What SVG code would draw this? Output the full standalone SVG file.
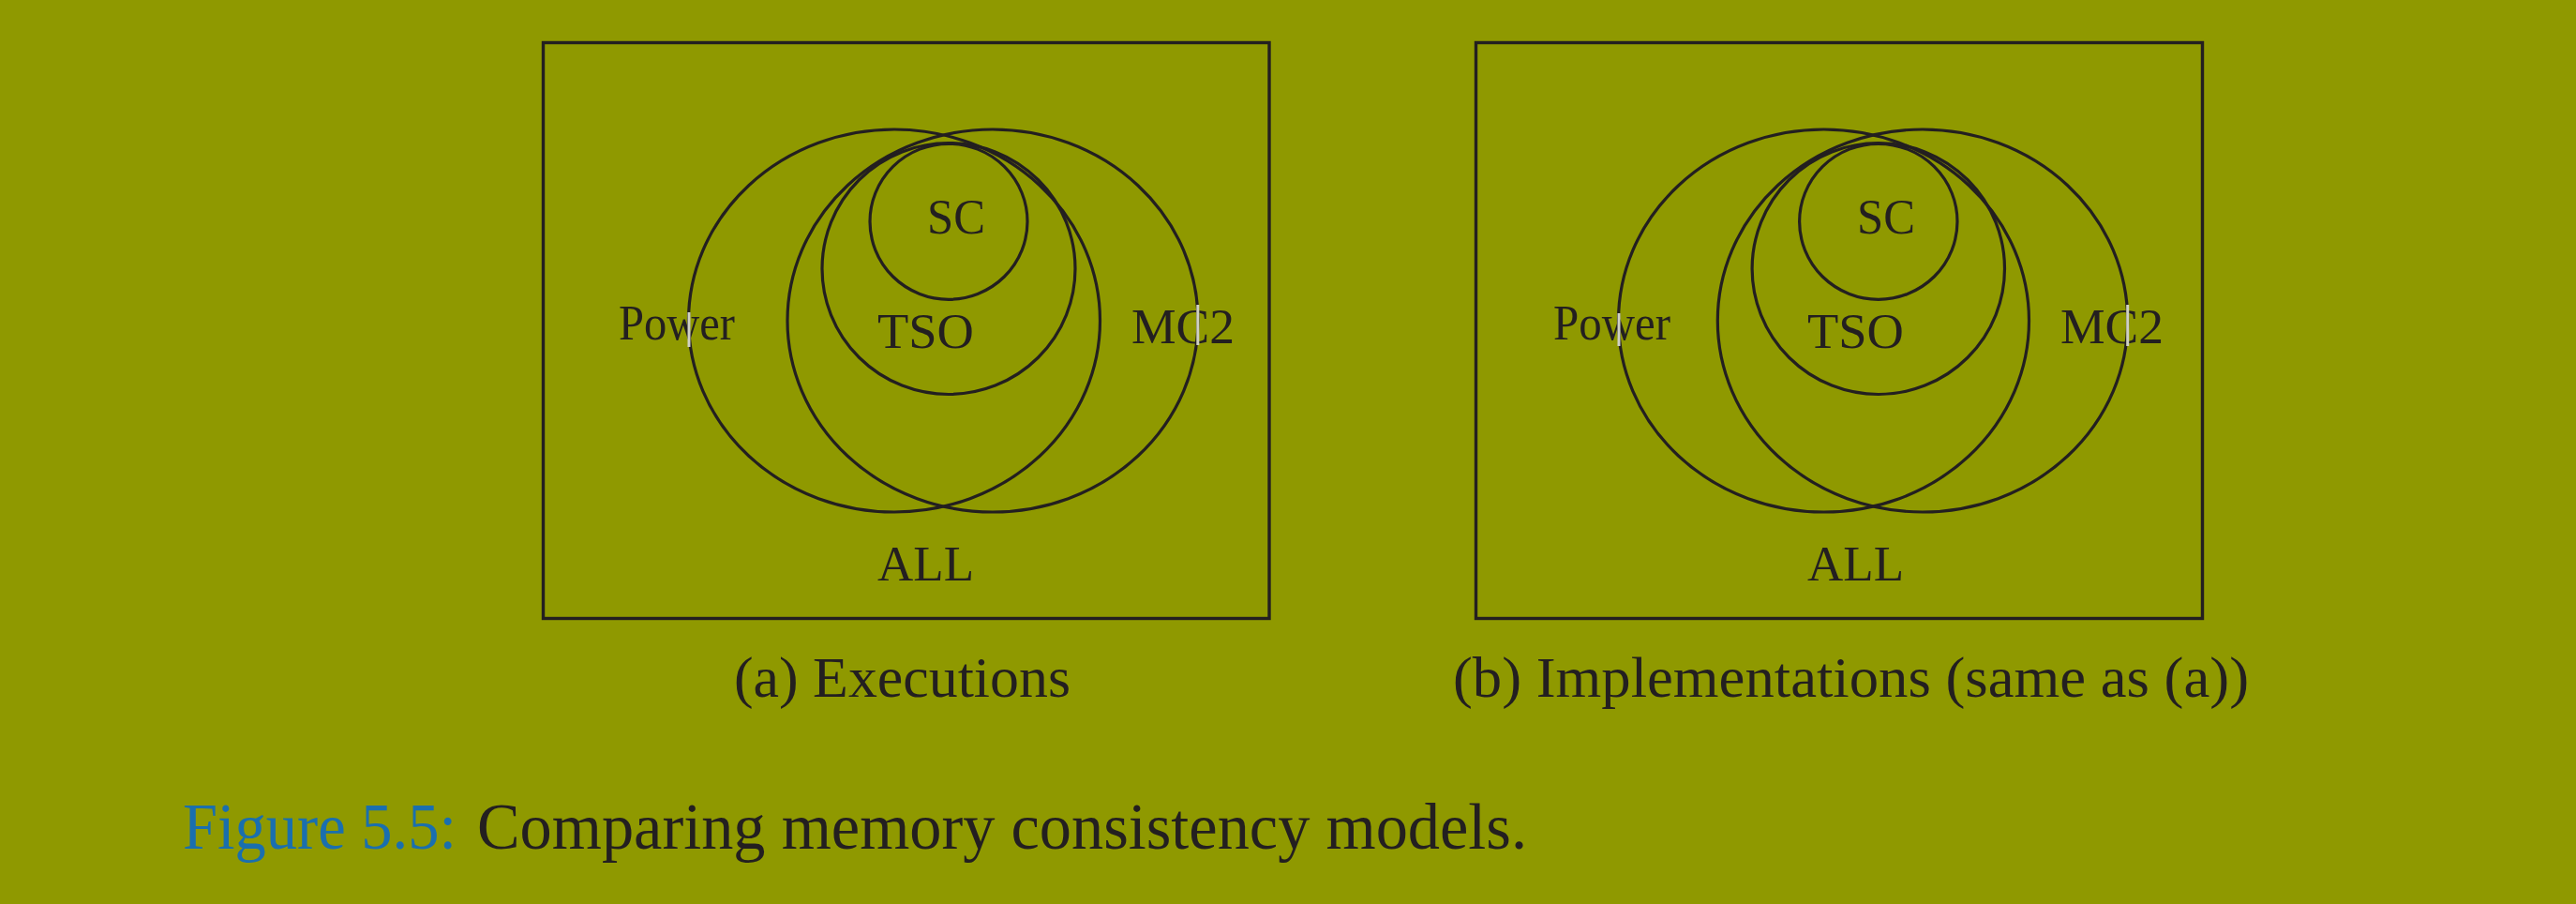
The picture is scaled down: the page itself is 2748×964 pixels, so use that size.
<svg xmlns="http://www.w3.org/2000/svg" width="2748" height="964" viewBox="0 0 2748 964">
<style>
.bg{fill:#8f9900}
.frame{fill:none;stroke:#231f20;stroke-width:3.4}
.set{fill:none;stroke:#231f20;stroke-width:3.2}
.gap{stroke:#cfd0c4;stroke-width:3}
.lbl{font-family:"Liberation Serif","Times New Roman",serif;font-size:53px;fill:#231f20}
.sub{font-family:"Liberation Serif","Times New Roman",serif;font-size:62px;fill:#231f20}
.cap{font-family:"Liberation Serif","Times New Roman",serif;font-size:70px;fill:#231f20}
.capnum{fill:#1a6fae}
</style>
<rect class="bg" x="0" y="0" width="2748" height="964"/>

<g id="panel-a">
  <rect id="a-all" class="frame" x="579.5" y="45.5" width="774.5" height="614"/>
  <g id="a-power">
    <ellipse class="set" cx="954" cy="342" rx="219.5" ry="204"/>
    <text class="lbl" x="660" y="362" textLength="124" lengthAdjust="spacingAndGlyphs">Power</text>
    <line class="gap" x1="735" y1="333" x2="735" y2="370"/>
  </g>
  <g id="a-mc2">
    <ellipse class="set" cx="1059" cy="342" rx="219" ry="204"/>
    <text class="lbl" x="1207" y="366" textLength="110" lengthAdjust="spacingAndGlyphs">MC2</text>
    <line class="gap" x1="1277.8" y1="325" x2="1277.8" y2="368"/>
  </g>
  <g id="a-tso">
    <ellipse class="set" cx="1012" cy="286.5" rx="135" ry="134"/>
    <text class="lbl" x="936" y="371.4" textLength="103" lengthAdjust="spacingAndGlyphs">TSO</text>
  </g>
  <g id="a-sc">
    <ellipse class="set" cx="1012" cy="236.3" rx="84" ry="83"/>
    <text class="lbl" x="989" y="249" textLength="62" lengthAdjust="spacingAndGlyphs">SC</text>
  </g>
  <text id="a-all-label" class="lbl" x="936" y="619.4" textLength="103" lengthAdjust="spacingAndGlyphs">ALL</text>
  <text id="a-caption" class="sub" x="783" y="743" textLength="359" lengthAdjust="spacingAndGlyphs">(a) Executions</text>
</g>

<g id="panel-b">
  <rect id="b-all" class="frame" x="1574.5" y="45.5" width="775" height="614"/>
  <g id="b-power">
    <ellipse class="set" cx="1945.5" cy="342" rx="219" ry="204"/>
    <text class="lbl" x="1657" y="362" textLength="125" lengthAdjust="spacingAndGlyphs">Power</text>
    <line class="gap" x1="1727" y1="334" x2="1727" y2="369"/>
  </g>
  <g id="b-mc2">
    <ellipse class="set" cx="2051" cy="342" rx="218.7" ry="204"/>
    <text class="lbl" x="2198" y="366" textLength="110" lengthAdjust="spacingAndGlyphs">MC2</text>
    <line class="gap" x1="2269.7" y1="325" x2="2269.7" y2="369"/>
  </g>
  <g id="b-tso">
    <ellipse class="set" cx="2003.8" cy="286.5" rx="134.7" ry="134"/>
    <text class="lbl" x="1928" y="371.4" textLength="103" lengthAdjust="spacingAndGlyphs">TSO</text>
  </g>
  <g id="b-sc">
    <ellipse class="set" cx="2003.8" cy="236.3" rx="84.2" ry="83"/>
    <text class="lbl" x="1981" y="249" textLength="62" lengthAdjust="spacingAndGlyphs">SC</text>
  </g>
  <text id="b-all-label" class="lbl" x="1928" y="619.4" textLength="103" lengthAdjust="spacingAndGlyphs">ALL</text>
  <text id="b-caption" class="sub" x="1550" y="743" textLength="849" lengthAdjust="spacingAndGlyphs">(b) Implementations (same as (a))</text>
</g>

<g id="connectors"></g>

<g id="figure-caption">
  <text class="cap capnum" x="195" y="905" textLength="292" lengthAdjust="spacingAndGlyphs">Figure 5.5:</text>
  <text class="cap" x="509" y="905" textLength="1120" lengthAdjust="spacingAndGlyphs">Comparing memory consistency models.</text>
</g>
</svg>
